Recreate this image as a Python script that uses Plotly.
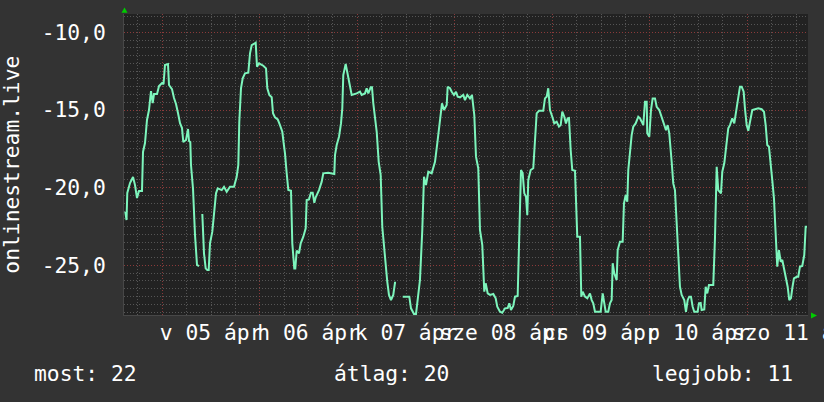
import plotly.graph_objects as go

# ---- data (hours since 2020-04-05 00:00, rank value shown negated) ----
seg1_hours = [-9.11, -8.81, -8.62, -7.95, -7.21, -6.72, -6.23, -5.74, -5.00, -4.75, -4.26, -3.77, -3.28, -2.78,
              -2.36, -2.04, -1.30, -0.81, -0.07, 0.30, 0.66, 1.40, 1.65, 2.38, 2.88, 3.37, 3.86, 4.36, 4.85, 5.17,
              5.83, 6.33, 6.57, 6.89, 7.06, 7.56, 8.05, 8.37, 8.54, 9.03]
seg1_values = [-21.54, -22.08, -20.34, -19.70, -19.31, -19.83, -20.66, -20.21, -20.21, -17.70, -17.12, -15.64,
               -15.00, -13.78, -14.55, -13.97, -13.97, -13.46, -13.26, -13.33, -12.10, -12.04, -13.39, -13.65,
               -14.23, -14.61, -15.19, -15.84, -16.16, -17.06, -16.93, -16.22, -16.99, -17.06, -18.54, -20.08,
               -23.04, -24.46, -24.97, -25.04]

seg2_hours = [9.85, 10.26, 10.68, 11.08, 11.42, 11.74, 12.31, 12.80, 13.22, 13.64, 14.62, 15.19, 15.85, 16.66,
              17.65, 18.31, 18.71, 18.95, 19.37, 19.79, 20.36, 21.17, 21.59, 22.01, 22.99, 23.31, 23.80, 24.86,
              25.53, 25.85, 26.34, 26.93, 27.25, 27.74, 28.41, 28.97, 29.54, 29.88, 30.20, 30.62, 31.02, 31.68,
              32.00, 32.49, 32.74, 33.08, 33.65, 34.07, 34.71, 35.30, 35.54, 36.11, 36.60, 37.02, 37.42, 37.76,
              38.57, 39.24, 39.63, 40.86, 41.70, 42.34, 42.51, 42.93, 43.50, 43.99, 44.31, 44.55, 45.14, 45.64,
              46.20, 46.62, 47.85, 48.66, 49.08, 49.89, 50.31, 50.71, 51.30, 51.62, 51.94, 52.36, 52.78, 53.27,
              53.76, 54.15, 54.65, 55.06, 55.38, 55.80, 56.30, 56.86, 57.28, 57.53]
seg2_values = [-21.69, -24.22, -25.19, -25.30, -25.30, -23.58, -22.83, -21.44, -20.36, -20.04, -20.15, -19.94,
               -20.26, -19.94, -19.94, -19.29, -18.54, -15.75, -13.60, -12.96, -12.64, -12.60, -11.35, -10.82,
               -10.67, -12.21, -11.99, -12.15, -12.32, -13.60, -14.03, -14.18, -15.21, -15.47, -15.60, -15.97,
               -16.40, -17.14, -17.79, -19.07, -20.15, -20.19, -23.58, -25.19, -25.19, -24.05, -24.22, -23.58,
               -23.15, -22.61, -20.79, -20.75, -20.32, -20.32, -20.97, -20.62, -20.15, -19.61, -19.07, -19.03,
               -19.07, -19.12, -17.90, -17.25, -16.72, -15.86, -14.89, -12.75, -12.04, -12.64, -13.39, -14.03,
               -13.93, -13.82, -14.03, -13.93, -13.60, -13.93, -13.54, -13.54, -14.57, -15.43, -16.40, -18.33,
               -19.18, -22.51, -23.90, -25.51, -26.05, -26.90, -27.23, -26.90, -26.11, -26.11]

seg3_hours = [59.18, 60.80, 61.22, 61.96, 62.45, 63.02, 63.43, 64.00, 64.42, 64.91, 65.48, 66.31, 67.13, 67.69,
              68.18, 68.53, 68.85, 69.34, 70.01, 70.25, 70.82, 71.24, 71.80, 72.30, 72.71, 73.28, 74.09, 74.51,
              75.08, 75.74, 76.23, 76.80, 77.22, 77.78, 78.20, 78.77, 79.26, 79.61, 80.10, 80.67, 81.48, 82.07,
              82.46, 83.13, 83.69, 84.36, 85.02, 85.42, 85.83, 86.40, 86.82, 87.48, 87.88, 88.30, 88.71, 89.11,
              89.53, 89.85, 90.09, 90.68, 91.32, 91.74, 92.16, 92.73, 93.78, 94.20, 94.62, 95.01, 95.43, 96.00,
              96.49, 97.08, 97.65, 98.07, 98.46, 98.95, 99.37, 99.79, 100.11, 100.53, 100.92, 101.59, 102.15,
              102.82, 103.14, 103.48, 104.05, 104.62, 105.28, 105.70, 106.09, 106.51, 107.91, 108.41, 108.73,
              109.14, 109.78, 110.20, 110.62, 110.87, 111.26, 111.85, 112.10, 112.66, 113.33, 113.65, 114.07,
              114.46, 114.71, 115.13, 115.54, 115.94, 116.53, 117.17, 117.59, 118.01, 118.40, 118.82, 119.24,
              119.38, 119.88, 120.30, 120.71, 121.28, 121.70, 122.34, 122.93, 123.50, 123.99, 124.41, 124.80,
              125.39, 125.78, 126.20, 126.62, 127.02, 127.43, 127.85, 128.49, 128.91, 129.33, 129.72, 130.14,
              130.56, 130.95, 131.79, 132.11, 132.53, 132.77, 133.42, 133.76, 134.15, 134.57, 135.63, 136.05,
              136.47, 136.86, 137.53, 137.85, 138.34, 138.76, 139.32, 139.74, 140.31, 140.80, 141.29, 141.78,
              142.20, 142.62, 143.11, 143.43, 143.85, 144.25, 144.66, 145.23, 145.90, 146.71, 147.54, 148.11,
              148.53, 148.92, 149.34, 149.76, 150.15, 150.57, 150.99, 151.38, 151.80, 152.22, 152.62, 153.11,
              153.53, 153.94, 154.34, 154.76, 155.08, 155.49, 156.16, 156.55, 156.97, 157.54, 158.03, 158.38,
              158.70]
seg3_values = [-27.01, -27.01, -27.76, -28.13, -28.13, -26.90, -25.94, -22.72, -19.29, -19.83, -18.97, -19.07,
               -18.33, -17.14, -15.97, -15.00, -14.57, -15.00, -14.68, -13.50, -13.60, -13.82, -14.03, -13.82,
               -14.14, -14.18, -14.03, -14.36, -14.03, -14.25, -14.03, -15.32, -18.00, -18.75, -22.72, -23.69,
               -26.69, -26.15, -26.80, -26.90, -26.84, -27.12, -27.66, -27.98, -28.04, -27.76, -27.74, -27.44,
               -27.87, -27.61, -27.01, -26.97, -23.04, -18.86, -19.07, -20.36, -20.58, -21.76, -19.50, -18.86,
               -18.75, -16.72, -15.21, -15.05, -15.05, -14.25, -14.14, -13.60, -15.00, -15.43, -15.86, -15.75,
               -16.07, -15.97, -15.11, -15.43, -15.86, -15.53, -15.51, -17.57, -18.86, -18.91, -23.15, -23.15,
               -27.01, -26.69, -27.01, -27.12, -26.80, -27.23, -27.44, -27.98, -27.98, -26.80, -27.23, -27.98,
               -27.98, -27.44, -27.23, -24.86, -25.51, -25.94, -24.01, -23.47, -23.47, -21.00, -20.47, -20.90,
               -18.86, -17.57, -16.61, -16.07, -15.86, -15.43, -15.53, -15.75, -15.97, -14.47, -14.47, -16.50,
               -16.72, -15.00, -14.25, -14.25, -14.79, -15.00, -15.43, -15.86, -16.29, -15.97, -16.50, -18.33,
               -19.72, -20.15, -22.61, -24.76, -26.37, -26.90, -27.23, -27.98, -27.23, -27.01, -27.01, -27.66,
               -27.98, -27.98, -27.44, -27.42, -27.87, -27.83, -26.37, -26.80, -26.26, -26.26, -23.26, -18.65,
               -20.15, -20.36, -18.97, -18.43, -17.36, -16.18, -15.97, -15.53, -15.86, -15.11, -14.25, -13.50,
               -13.50, -13.82, -14.89, -15.97, -16.33, -15.75, -15.00, -14.95, -14.89, -14.95, -15.11, -15.97,
               -17.25, -17.36, -18.33, -19.50, -20.68, -23.37, -25.08, -24.01, -24.76, -24.65, -25.30, -26.05,
               -26.37, -27.23, -27.10, -26.47, -25.83, -25.73, -25.73, -25.08, -25.04, -24.33, -22.51, -22.51]

day_labels = ["v 05 ápr", "h 06 ápr", "k 07 ápr", "sze 08 ápr", "cs 09 ápr", "p 10 ápr", "szo 11 ápr"]
y_tick_values = [-10, -15, -20, -25]
y_tick_labels = ["-10,0", "-15,0", "-20,0", "-25,0"]
series_name = "onlinestream.live"
legend_texts = ["most: 22", "átlag: 20", "legjobb: 11"]

x_range = [-9.43, 158.95]
y_range = [-28.19, -8.82]

assert len(seg1_hours) == len(seg1_values)
assert len(seg2_hours) == len(seg2_values)
assert len(seg3_hours) == len(seg3_values)

hours = seg1_hours + [None] + seg2_hours + [None] + seg3_hours
values = seg1_values + [None] + seg2_values + [None] + seg3_values

FONT = "DejaVu Sans Mono"
FS = 21.3
TXT = "#FFFFFF"
GRID_MINOR = "#555555"
GRID_MAJOR = "#8a3a3a"
DASH = "1px,2px"

label_hours = [12 + 24 * i for i in range(len(day_labels))]

fig = go.Figure()
fig.add_trace(go.Scatter(x=hours, y=values, mode="lines", connectgaps=False,
                         line=dict(color="#7DF5BC", width=2), hoverinfo="skip", name=series_name))
fig.add_trace(go.Scatter(x=label_hours, y=[y_range[0]] * len(label_hours), xaxis="x2", mode="markers",
                         marker=dict(opacity=0), hoverinfo="skip", showlegend=False))

fig.update_layout(
    width=824, height=402,
    margin=dict(l=124, r=16, t=14, b=87, pad=0, autoexpand=False),
    paper_bgcolor="#333333", plot_bgcolor="#222222",
    showlegend=False,
    font=dict(family=FONT, size=FS, color=TXT),
    xaxis=dict(range=x_range, tick0=0, dtick=24, showgrid=True, gridcolor=GRID_MAJOR, griddash=DASH,
               gridwidth=1, showticklabels=False, zeroline=False, ticks="", automargin=False,
               showline=True, linecolor="#474747", linewidth=1,
               minor=dict(tick0=0, dtick=6, showgrid=True, gridcolor=GRID_MINOR, griddash=DASH, gridwidth=1)),
    xaxis2=dict(overlaying="x", range=x_range, tickmode="array", tickvals=label_hours, ticktext=day_labels,
                tickangle=0, showgrid=False, zeroline=False, side="bottom", ticks="",
                ticklabelstandoff=3, ticklabeloverflow="allow", automargin=False,
                tickfont=dict(family=FONT, size=FS, color=TXT)),
    yaxis=dict(range=y_range, tickmode="array", tickvals=y_tick_values, ticktext=y_tick_labels,
               showgrid=True, gridcolor=GRID_MAJOR, griddash=DASH, gridwidth=1, zeroline=False,
               ticks="outside", ticklen=13, tickcolor="rgba(0,0,0,0)", automargin=False,
               showline=True, linecolor="#474747", linewidth=1,
               tickfont=dict(family=FONT, size=FS, color=TXT),
               minor=dict(tick0=0, dtick=0.5, showgrid=True, gridcolor=GRID_MINOR, griddash=DASH, gridwidth=1)),
    annotations=[
        dict(text=series_name, textangle=-90, xref="paper", yref="paper", x=-0.165, y=0.5,
             xanchor="center", yanchor="middle", showarrow=False, font=dict(family=FONT, size=FS, color=TXT)),
        dict(text=legend_texts[0], xref="paper", yref="paper", x=-0.1345, y=-0.194,
             xanchor="left", yanchor="middle", showarrow=False, font=dict(family=FONT, size=FS, color=TXT)),
        dict(text=legend_texts[1], xref="paper", yref="paper", x=0.3048, y=-0.194,
             xanchor="left", yanchor="middle", showarrow=False, font=dict(family=FONT, size=FS, color=TXT)),
        dict(text=legend_texts[2], xref="paper", yref="paper", x=0.769, y=-0.194,
             xanchor="left", yanchor="middle", showarrow=False, font=dict(family=FONT, size=FS, color=TXT)),
    ],
    shapes=[
        dict(type="path", xref="paper", yref="paper", line=dict(width=0), fillcolor="#00CC00",
             path="M -0.00365 1.00432 L 0.00512 1.00432 L 0.00073 1.02159 Z"),
        dict(type="path", xref="paper", yref="paper", line=dict(width=0), fillcolor="#00CC00",
             path="M 1.00439 0.0083 L 1.00439 -0.01163 L 1.01316 -0.00166 Z"),
    ],
)

fig.write_html("out.html", config={"displayModeBar": False, "staticPlot": True},
               post_script="document.body.style.margin='0';")
